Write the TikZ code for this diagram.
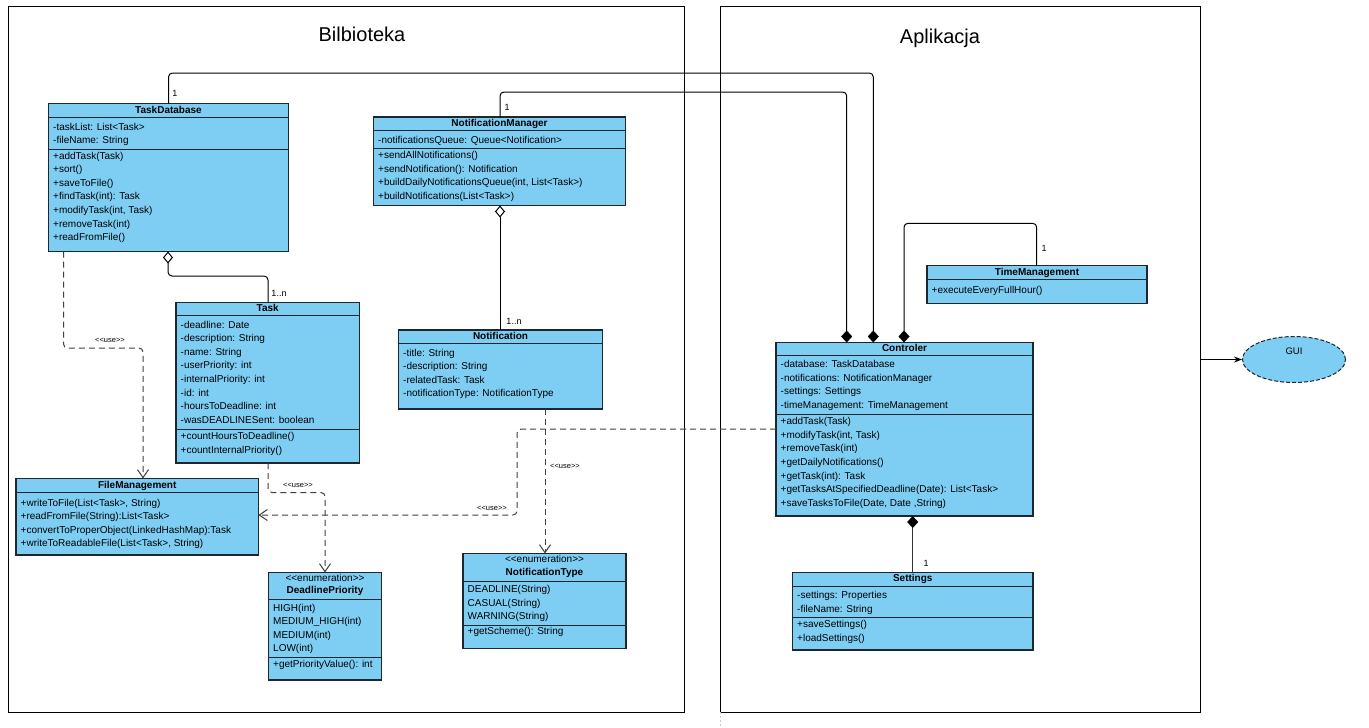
\documentclass[tikz,border=0pt]{standalone}
\usepackage{fontspec}
\setmainfont{Liberation Sans}
\usetikzlibrary{arrows.meta,calc,shapes.geometric}
\definecolor{umlblue}{RGB}{126,206,244}
\definecolor{umlline}{RGB}{30,38,48}
\newcommand\rowlist[4]{\foreach \t [count=\i] in {#4}{\node[row] (#1\i) at (#2,{#3+13.6*(\i-1)}) {\t};}}
\newcommand\sepline[2]{\draw[umlline,line width=1.1pt] ($(#1.north west)+(0,#2)$) -- ($(#1.north east)+(0,#2)$);}
\newcommand\dblless{<{}<}
\newcommand\dblgreater{>{}>}
\tikzset{
  cls/.style={draw=umlline, fill=umlblue, line width=1.1pt, anchor=north west, inner sep=0pt, outer sep=0pt, rectangle},
  frame/.style={draw=black, line width=0.9pt, anchor=north west, inner sep=0pt, outer sep=0pt, rectangle},
  row/.style={anchor=west, inner sep=0pt, font=\fontsize{10}{12}\selectfont, text height=7.2pt, text depth=2pt},
  ttl/.style={inner sep=0pt, font=\bfseries\fontsize{10}{12}\selectfont, text height=7.2pt, text depth=2pt},
  stereo/.style={inner sep=0pt, font=\fontsize{10}{12}\selectfont, text height=7.2pt, text depth=2pt},
  bigttl/.style={inner sep=0pt, font=\fontsize{20}{24}\selectfont},
  lbl/.style={inner sep=0pt, font=\fontsize{9}{10}\selectfont},
  uselbl/.style={inner sep=0pt, font=\fontsize{7.5}{9}\selectfont},
  comp/.style={draw=black, line width=1pt, rounded corners=4pt, -{Diamond[length=12pt,width=11pt]}},
  compstart/.style={draw=black!80, line width=1pt, {Diamond[length=12pt,width=11pt,fill=black,color=black]}-},
  agg/.style={draw=black, line width=1pt, rounded corners=4pt, {Diamond[fill=white,length=12pt,width=10pt]}-},
  dep/.style={draw=black!75, line width=1pt, dash pattern=on 6pt off 4pt, rounded corners=4pt, -{Straight Barb[length=8pt,width=11pt]}},
}
\begin{document}
\begin{tikzpicture}[x=1pt,y=-1pt]
\useasboundingbox[fill=white] (0,0) rectangle (1369,728);
% frames
\node[frame, minimum width=676pt, minimum height=706pt] (lib) at (8,6) {};
\node[frame, minimum width=480pt, minimum height=706pt] (app) at (720.5,6) {};
\draw[black!20, dash pattern=on 2pt off 2pt] (app.south west) -- ++(0,15);
\node[bigttl] (libT) at (362,34) {Bilbioteka};
\node[bigttl] (appT) at (940,38) {Aplikacja};

% TaskDatabase
\node[cls, minimum width=240pt, minimum height=148pt] (td) at (48.5,103.5) {};
\sepline{td}{14}\sepline{td}{46}
\node[ttl] (tdT) at ($(td.north)+(0,7)$) {TaskDatabase};
\rowlist{tda}{53}{127.5}{-taskList: List<Task>, -fileName: String}
\rowlist{tdm}{53}{156.5}{+addTask(Task), +sort(), +saveToFile(), +findTask(int): Task, {+modifyTask(int, Task)}, +removeTask(int), +readFromFile()}

% NotificationManager
\node[cls, minimum width=252pt, minimum height=88.5pt] (nm) at (373.5,117) {};
\sepline{nm}{13.3}\sepline{nm}{31.5}
\node[ttl] (nmT) at ($(nm.north)+(0,6.7)$) {NotificationManager};
\rowlist{nma}{378}{141}{-notificationsQueue: Queue<Notification>}
\rowlist{nmm}{378}{156}{+sendAllNotifications(), +sendNotification(): Notification, {+buildDailyNotificationsQueue(int, List<Task>)}, +buildNotifications(List<Task>)}

% Task
\node[cls, minimum width=183.5pt, minimum height=160.5pt] (tk) at (176,302.5) {};
\sepline{tk}{13}\sepline{tk}{126.7}
\node[ttl] (tkT) at ($(tk.north)+(0,6.5)$) {Task};
\rowlist{tka}{180.5}{325.5}{-deadline: Date, -description: String, -name: String, -userPriority: int, -internalPriority: int, -id: int, -hoursToDeadline: int, -wasDEADLINESent: boolean}
\rowlist{tkm}{180.5}{437}{+countHoursToDeadline(), +countInternalPriority()}

% Notification
\node[cls, minimum width=204pt, minimum height=79pt] (nf) at (398.5,330) {};
\sepline{nf}{13.3}
\node[ttl] (nfT) at ($(nf.north)+(0,6.7)$) {Notification};
\rowlist{nfa}{403}{353.5}{-title: String, -description: String, -relatedTask: Task, -notificationType: NotificationType}

% FileManagement
\node[cls, minimum width=242.5pt, minimum height=76.5pt] (fm) at (16,478.5) {};
\sepline{fm}{14}
\node[ttl] (fmT) at ($(fm.north)+(0,7)$) {FileManagement};
\rowlist{fmm}{20.5}{503.5}{{+writeToFile(List<Task>, String)}, +readFromFile(String):List<Task>, +convertToProperObject(LinkedHashMap):Task, {+writeToReadableFile(List<Task>, String)}}

% DeadlinePriority
\node[cls, minimum width=113pt, minimum height=107.5pt] (dp) at (268.5,572.5) {};
\sepline{dp}{27}\sepline{dp}{85}
\node[stereo] (dpS) at ($(dp.north)+(0,6)$) {\dblless enumeration\dblgreater};
\node[ttl] (dpT) at ($(dp.north)+(0,18.5)$) {DeadlinePriority};
\rowlist{dpa}{273}{608.5}{HIGH(int), MEDIUM\_HIGH(int), MEDIUM(int), LOW(int)}
\rowlist{dpm}{273}{664.5}{+getPriorityValue(): int}

% NotificationType
\node[cls, minimum width=163pt, minimum height=95pt] (nt) at (463,553.5) {};
\sepline{nt}{28.3}\sepline{nt}{71.6}
\node[stereo] (ntS) at ($(nt.north)+(0,6)$) {\dblless enumeration\dblgreater};
\node[ttl] (ntT) at ($(nt.north)+(0,19)$) {NotificationType};
\rowlist{nta}{467.5}{590}{DEADLINE(String), CASUAL(String), WARNING(String)}
\rowlist{ntm}{467.5}{631.5}{+getScheme(): String}

% TimeManagement
\node[cls, minimum width=220pt, minimum height=38pt] (tm) at (927,265.5) {};
\sepline{tm}{14}
\node[ttl] (tmT) at ($(tm.north)+(0,7)$) {TimeManagement};
\rowlist{tmm}{931.5}{290.5}{+executeEveryFullHour()}

% Controler
\node[cls, minimum width=257pt, minimum height=173.5pt] (ct) at (776,342.5) {};
\sepline{ct}{13.4}\sepline{ct}{72}
\node[ttl] (ctT) at ($(ct.north)+(0,6.7)$) {Controler};
\rowlist{cta}{780.5}{365}{-database: TaskDatabase, -notifications: NotificationManager, -settings: Settings, -timeManagement: TimeManagement}
\rowlist{ctm}{780.5}{422}{+addTask(Task), {+modifyTask(int, Task)}, +removeTask(int), +getDailyNotifications(), +getTask(int): Task, +getTasksAtSpecifiedDeadline(Date): List<Task>, {+saveTasksToFile(Date, Date ,String)}}

% Settings
\node[cls, minimum width=240.5pt, minimum height=77.5pt] (st) at (792.5,572.5) {};
\sepline{st}{13.7}\sepline{st}{45}
\node[ttl] (stT) at ($(st.north)+(0,6.8)$) {Settings};
\rowlist{sta}{797}{596}{-settings: Properties, -fileName: String}
\rowlist{stm}{797}{625}{+saveSettings(), +loadSettings()}

% GUI
\node[ellipse, draw=umlline, fill=umlblue, dash pattern=on 4pt off 2pt, line width=1pt, minimum width=103pt, minimum height=46pt, inner sep=0pt] (gui) at (1294,359.5) {};
\node[lbl, font=\fontsize{9.5}{11}\selectfont] (guiT) at (1294,351) {GUI};
\draw[line width=1.1pt, -{Stealth[length=8pt,width=6pt]}] (app.east |- gui.west) -- (gui.west);

% compositions to Controler
\draw[comp] ($(td.north west)+(120,0)$) -- ++(0,-30.5) -| ($(ct.north west)+(97.3,0)$);
\draw[comp] ($(nm.north west)+(126.5,0)$) -- ++(0,-25) -| ($(ct.north west)+(70.7,0)$);
\draw[comp] ($(tm.north west)+(109.7,0)$) -- ++(0,-42.2) -| ($(ct.north west)+(128,0)$);
\draw[compstart] ($(ct.south west)+(136.7,0)$) -- ($(st.north west)+(120.2,0)$);
\node[lbl] (l1) at (175,93) {1};
\node[lbl] (l2) at (507,107) {1};
\node[lbl] (l3) at (1044,248) {1};
\node[lbl] (l4) at (926,563) {1};

% aggregations
\draw[agg] ($(td.south west)+(119.5,0)$) -- ++(0,24.5) -| ($(tk.north west)+(92,0)$);
\draw[agg] ($(nm.south west)+(126.5,0)$) -- ($(nf.north west)+(101.5,0)$);
\node[lbl] (l5) at (279,293) {1..n};
\node[lbl] (l6) at (514,321) {1..n};

% dependencies
\draw[dep] ($(td.south west)+(15,0)$) -- ++(0,96.5) -| ($(fm.north west)+(127,0)$);
\draw[dep] ($(tk.south west)+(92,0)$) -- ++(0,29.5) -| ($(dp.north west)+(56.5,0)$);
\draw[dep] ($(nf.south west)+(146.5,0)$) -- ($(nt.north west)+(82,0)$);
\draw[dep] ($(ct.north west)+(0,86.5)$) -- ++(-259,0) |- ($(fm.north east)+(0,36.5)$);
\node[uselbl] (u1) at (110,340) {\dblless use\dblgreater};
\node[uselbl] (u2) at (298,485) {\dblless use\dblgreater};
\node[uselbl] (u3) at (565,466) {\dblless use\dblgreater};
\node[uselbl] (u4) at (492,508) {\dblless use\dblgreater};
\end{tikzpicture}
\end{document}
